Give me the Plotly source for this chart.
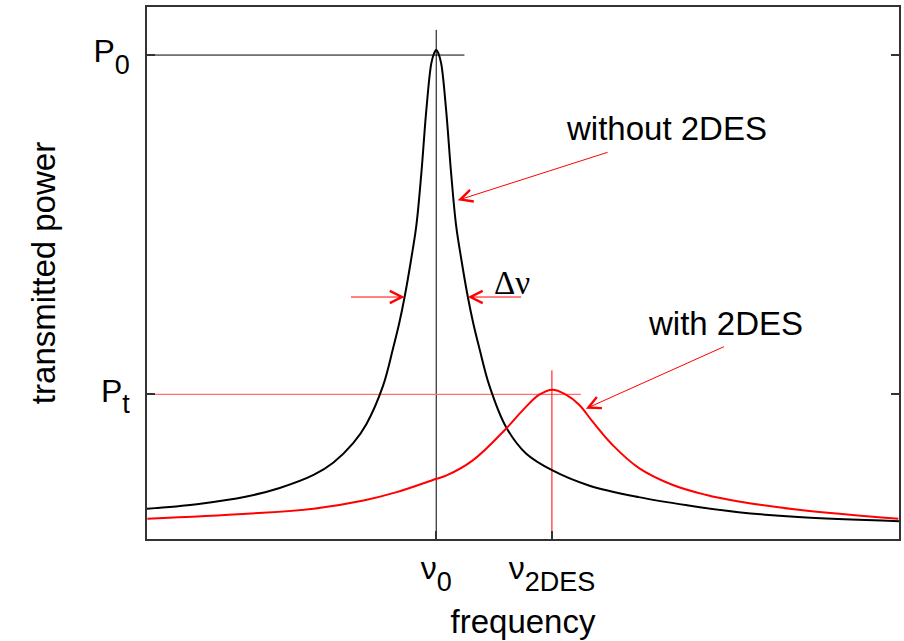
import plotly.graph_objects as go

# Frequency in units of (nu_2DES - nu_0), measured from nu_0; power normalised to P0.
freq_without = [-2.500, -2.069, -1.638, -1.353, -1.060, -0.888, -0.716, -0.603, -0.460,
                -0.374, -0.319, -0.273, -0.216, -0.172, -0.129, -0.086, -0.043, -0.018,
                0.0, 0.018, 0.043, 0.086, 0.129, 0.172, 0.216, 0.273, 0.319, 0.374,
                0.460, 0.603, 0.776, 1.005, 1.319, 1.750, 2.181, 2.612, 3.129, 4.000]
power_without = [0.0625, 0.0720, 0.0879, 0.1055, 0.1324, 0.1582, 0.1986, 0.2378, 0.3164,
                 0.3930, 0.4467, 0.5005, 0.5791, 0.6474, 0.7549, 0.8852, 0.9824, 1.004,
                 1.011, 1.004, 0.9824, 0.8852, 0.7549, 0.6474, 0.5791, 0.5005, 0.4467, 0.3930,
                 0.3164, 0.2316, 0.1768, 0.1417, 0.1107, 0.0865, 0.0693, 0.0554, 0.0455,
                 0.0368]

freq_with = [-2.497, -1.635, -1.060, -0.629, -0.342, 0.003, 0.089, 0.316, 0.603, 0.747,
             0.891, 1.005, 1.121, 1.235, 1.350, 1.522, 1.753, 2.040, 2.328, 2.615, 3.132, 3.994]
power_with = [0.0418, 0.0521, 0.0625, 0.0796, 0.0968, 0.1245, 0.1313, 0.1624, 0.2279, 0.2658,
              0.2982, 0.3086, 0.2982, 0.2776, 0.2430, 0.1948, 0.1464, 0.1121, 0.0914, 0.0776,
              0.0604, 0.0418]

# subscripts are set nearly full size and dropped well below the baseline
SUB = "<sub><sub><span style='font-size:27px'>{}</span></sub></sub>"
nu_ticks = [0.0, 1.0]
nu_labels = ["ν" + SUB.format("0"), "ν" + SUB.format("2DES")]
p_ticks = [0.2989, 1.0]
p_labels = ["P" + SUB.format("t"), "P" + SUB.format("0")]

P0, Pt = p_ticks[1], p_ticks[0]
nu0, nu2 = nu_ticks
half_width = 0.273   # half width at half maximum of the empty-resonator line

x_range = [-2.5, 4.0]
y_range = [0.0, 1.0993]

SANS = "Liberation Sans, Arial, Helvetica, sans-serif"
FS = 33

fig = go.Figure()

# guide lines: resonance positions and peak levels
fig.add_trace(go.Scatter(x=[x_range[0], 0.244], y=[P0, P0], mode="lines",
                         line=dict(color="black", width=1), hoverinfo="skip"))
fig.add_trace(go.Scatter(x=[nu0, nu0], y=[0, 1.052], mode="lines",
                         line=dict(color="black", width=1), hoverinfo="skip"))
fig.add_trace(go.Scatter(x=[x_range[0], 1.25], y=[Pt, Pt], mode="lines",
                         line=dict(color="#ff7070", width=1.3), hoverinfo="skip"))
fig.add_trace(go.Scatter(x=[nu2, nu2], y=[0, 0.3485], mode="lines",
                         line=dict(color="red", width=1), hoverinfo="skip"))

# transmission curves
fig.add_trace(go.Scatter(x=freq_without, y=power_without, mode="lines",
                         line=dict(color="black", width=2, shape="spline", smoothing=1.0)))
fig.add_trace(go.Scatter(x=freq_with, y=power_with, mode="lines",
                         line=dict(color="red", width=2, shape="spline", smoothing=1.1)))

arrow = dict(showarrow=True, arrowhead=5, arrowsize=2.4, arrowwidth=1, arrowcolor="red",
             xref="x", yref="y", axref="x", ayref="y", text="")

annotations = [
    dict(arrow, x=-half_width, y=0.5, ax=-0.75, ay=0.5),
    dict(arrow, x=half_width, y=0.5, ax=0.747, ay=0.5),
    dict(arrow, x=0.186, y=0.700, ax=1.494, ay=0.800),
    dict(arrow, x=1.293, y=0.2693, ax=2.50, ay=0.3988),
    dict(x=0.658, y=0.530, xref="x", yref="y", text="Δν", showarrow=False,
         font=dict(family="Liberation Serif, Times New Roman, serif", size=33, color="black")),
    dict(x=1.994, y=0.848, xref="x", yref="y", text="without 2DES", showarrow=False,
         font=dict(family=SANS, size=FS, color="black")),
    dict(x=2.498, y=0.4457, xref="x", yref="y", text="with 2DES", showarrow=False,
         font=dict(family=SANS, size=FS, color="black")),
]

axis_common = dict(showgrid=False, zeroline=False, showline=True, linecolor="#333",
                   linewidth=1.5, ticks="inside", ticklen=8, tickcolor="#333", tickwidth=1.5,
                   tickfont=dict(family=SANS, size=32, color="black"))

fig.update_layout(
    width=904, height=641,
    margin=dict(l=147, r=3, t=7, b=102),
    paper_bgcolor="white", plot_bgcolor="white",
    showlegend=False,
    annotations=annotations,
    xaxis=dict(axis_common, range=x_range, tickmode="array", tickvals=nu_ticks,
               ticktext=nu_labels, mirror=True, ticklabelstandoff=0,
               title=dict(text="frequency", font=dict(family=SANS, size=FS, color="black"),
                          standoff=14)),
    yaxis=dict(axis_common, range=y_range, tickmode="array", tickvals=p_ticks,
               ticktext=p_labels, mirror="ticks", ticklabelstandoff=9, ticklabelshift=-4,
               title=dict(text="transmitted power", font=dict(family=SANS, size=FS, color="black"),
                          standoff=28)),
)

fig.write_html("out.html")
